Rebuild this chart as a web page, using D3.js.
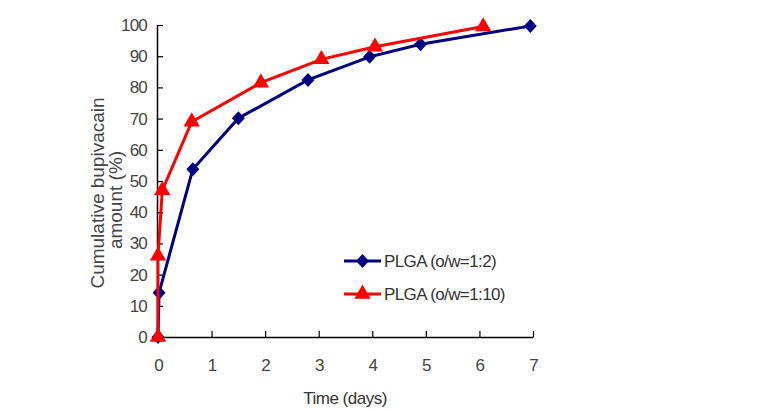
<!DOCTYPE html>
<html><head><meta charset="utf-8">
<script src="https://cdn.jsdelivr.net/npm/d3@7"></script>
<style>body{margin:0;background:#fff}svg{display:block}</style>
</head><body>
<svg id="c" width="768" height="410"></svg>
<script>
const xTicks = [0,1,2,3,4,5,6,7];
const yTicks = [0,10,20,30,40,50,60,70,80,90,100];
const seriesNames = ["PLGA (o/w=1:2)", "PLGA (o/w=1:10)"];
const daysA = [0, 0.02, 0.65, 1.5, 2.8, 3.95, 4.9, 6.95];
const valsA = [0, 14.2, 53.8, 70.1, 82.4, 89.8, 93.8, 99.7];
const daysB = [0, 0, 0.08, 0.63, 1.92, 3.05, 4.05, 6.07];
const valsB = [0, 26, 47, 69, 81.5, 89, 93, 99.5];

const svg = d3.select("#c");
const font = "'Liberation Sans', Arial, sans-serif";
const x = d3.scaleLinear().domain([0,7]).range([158,533]);
const y = d3.scaleLinear().domain([0,100]).range([337,25]);

const xa = svg.append("g").attr("transform","translate(0,337)")
  .call(d3.axisBottom(x).tickValues(xTicks).tickFormat(d3.format("d")).tickSizeInner(-6).tickSizeOuter(0).tickPadding(22));
xa.select(".domain").attr("d", "M157,0.5H533.5").attr("stroke","#000").attr("stroke-width",1.5);
const ya = svg.append("g").attr("transform","translate(157,0)")
  .call(d3.axisLeft(y).tickValues(yTicks).tickFormat(d3.format("d")).tickSizeInner(-6).tickSizeOuter(0).tickPadding(10));
ya.select(".domain").attr("stroke","#000").attr("stroke-width",1.5);
svg.selectAll(".tick line").attr("stroke","#000").attr("stroke-width",1.2);
svg.selectAll(".tick text").attr("font-family",font).attr("font-size",17).attr("fill","#444").attr("letter-spacing",-0.8);

const line = d3.line().x(d=>x(d[0])).y(d=>y(d[1]));
const dataA = daysA.map((d,i)=>[d,valsA[i]]);
const dataB = daysB.map((d,i)=>[d,valsB[i]]);
const blue = "#000080", red = "#ff0000";
const diamond = "M0,-7L6.5,0L0,7L-6.5,0Z";
const tri = d3.symbol().type(d3.symbolTriangle).size(115)();

svg.append("path").datum(dataA).attr("d",line).attr("fill","none").attr("stroke",blue).attr("stroke-width",3);
svg.selectAll(".mA").data(dataA).enter().append("path")
  .attr("d",diamond).attr("transform",d=>`translate(${x(d[0])},${y(d[1])})`).attr("fill",blue);
svg.append("path").datum(dataB).attr("d",line).attr("fill","none").attr("stroke",red).attr("stroke-width",3);
svg.selectAll(".mB").data(dataB).enter().append("path")
  .attr("d",tri).attr("transform",d=>`translate(${x(d[0])},${y(d[1])})`).attr("fill",red);

// legend
const leg = [[seriesNames[0], blue, diamond, 261],[seriesNames[1], red, tri, 294]];
leg.forEach(([name,col,sym,ly])=>{
  svg.append("line").attr("x1",344).attr("x2",381).attr("y1",ly).attr("y2",ly).attr("stroke",col).attr("stroke-width",3);
  svg.append("path").attr("d",sym).attr("transform",`translate(362.5,${ly})`).attr("fill",col);
  svg.append("text").attr("x",384).attr("y",ly).attr("dy","0.35em").attr("font-family",font)
    .attr("font-size",17).attr("fill","#333").attr("letter-spacing",-0.6).text(name);
});

svg.append("text").attr("x",345).attr("y",398).attr("dy","0.35em").attr("text-anchor","middle")
  .attr("font-family",font).attr("font-size",17).attr("fill","#333").attr("letter-spacing",-0.5).text("Time (days)");
const yl = svg.append("text").attr("font-family",font).attr("font-size",19).attr("fill","#444").attr("text-anchor","middle");
yl.append("tspan").attr("x",-193).attr("y",104).text("Cumulative bupivacain");
yl.append("tspan").attr("x",-200).attr("y",122).text("amount (%)");
yl.attr("transform","rotate(-90)");
</script>
</body></html>
